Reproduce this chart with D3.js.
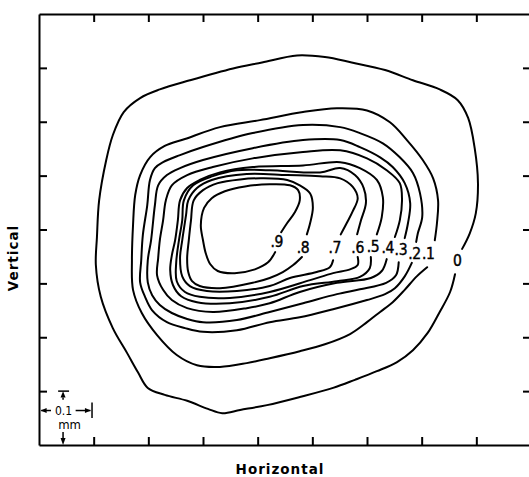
<!DOCTYPE html>
<html><head><meta charset="utf-8">
<script src="https://cdn.jsdelivr.net/npm/d3@7/dist/d3.min.js"></script>
<style>
html,body{margin:0;padding:0;background:#fff;}
svg{display:block;}
</style></head>
<body>
<svg id="chart" width="529" height="477"></svg>
<script>
// Units: 0.01 mm (one axis tick = 0.1 mm = 10 units)
const levels = ["0", ".1", ".2", ".3", ".4", ".5", ".6", ".7", ".8", ".9"];
const xTicks = [10, 20, 30, 40, 50, 60, 70, 80];
const yTicks = [10, 20, 30, 40, 50, 60, 70];

const contour0 = [[76.1,31.7],[75.2,28.4],[73.3,24.7],[71.1,20.8],[68.4,17.6],[65.5,15.4],[61.8,13.7],[57.8,12.1],[53.8,10.6],[47.7,8.9],[41.7,7.4],[36.8,6.5],[33.5,5.9],[30.9,6.7],[27.1,8.2],[23.0,9.3],[19.9,10.6],[18.1,13.5],[16.1,17.1],[13.5,21.7],[11.3,27.5],[10.4,33.4],[10.6,38.6],[11.0,45.4],[12.3,52.9],[13.5,57.5],[15.5,61.8],[18.5,64.4],[22.1,66.0],[27.6,67.7],[35.5,69.9],[40.8,71.0],[47.2,72.3],[52.3,72.0],[57.2,71.0],[63.3,69.6],[68.4,67.7],[73.3,66.0],[76.6,64.0],[78.5,60.7],[79.7,55.1],[80.3,48.6],[79.9,43.0],[78.8,39.3],[77.4,36.4]];
const contour1 = [[71.0,33.0],[69.1,31.3],[66.9,28.8],[64.7,26.5],[62.4,24.7],[60.0,22.8],[56.9,20.6],[52.3,18.7],[47.7,17.4],[42.2,16.1],[38.0,15.2],[33.1,14.5],[28.9,14.8],[25.2,16.7],[21.6,20.4],[18.8,24.5],[17.2,28.8],[17.0,34.3],[17.2,40.8],[17.6,46.4],[18.5,50.1],[20.3,53.4],[23.0,55.5],[26.7,56.8],[33.1,59.0],[40.4,60.3],[48.3,61.8],[54.5,62.5],[60.0,62.1],[64.2,59.9],[67.3,56.6],[70.2,52.9],[72.1,49.5],[73.0,45.4],[72.8,41.2],[72.4,38.0]];
const contour2 = [[68.2,33.8],[66.9,31.3],[65.1,29.1],[63.3,28.0],[60.0,26.9],[53.8,25.2],[47.7,23.7],[42.2,22.8],[36.2,21.3],[30.0,21.0],[26.7,21.7],[23.4,22.8],[20.7,25.0],[19.4,27.5],[18.5,30.2],[18.7,34.3],[19.0,39.0],[19.8,44.5],[20.3,49.2],[21.2,51.4],[22.7,52.5],[25.8,53.8],[30.0,55.3],[39.1,57.9],[48.3,59.4],[55.1,59.0],[58.7,57.9],[62.9,56.0],[66.0,53.4],[68.4,50.5],[69.7,46.7],[70.1,42.3],[69.3,39.3],[69.0,37.7]];
const contour3 = [[65.8,33.9],[65.3,31.5],[63.5,30.1],[58.7,28.9],[54.5,28.0],[48.3,26.3],[42.2,24.7],[36.2,23.2],[30.0,22.8],[27.1,23.4],[24.3,24.5],[22.1,26.0],[20.7,27.8],[19.9,30.2],[19.9,34.3],[20.5,38.0],[21.2,44.5],[21.8,48.2],[23.4,50.1],[25.8,51.4],[30.0,52.9],[39.1,55.1],[48.3,56.6],[55.1,56.6],[58.7,55.3],[62.4,53.4],[64.7,51.6],[66.9,48.6],[67.9,44.9],[67.5,41.2],[66.9,38.4]];
const contour4 = [[63.6,34.5],[62.7,32.3],[60.7,31.0],[54.5,30.1],[47.7,28.4],[42.2,26.3],[38.0,25.4],[31.8,24.7],[27.1,25.4],[24.3,26.9],[22.7,28.8],[21.6,31.5],[21.8,34.7],[22.1,38.0],[22.7,41.7],[23.2,45.4],[24.3,48.2],[27.1,50.1],[31.8,51.6],[39.1,53.2],[48.3,54.4],[55.1,54.7],[60.0,53.2],[63.6,51.0],[66.0,48.6],[66.4,45.4],[66.0,41.7],[65.1,38.6]];
const contour5 = [[60.7,34.9],[60.5,32.8],[58.7,31.2],[54.5,30.4],[48.3,29.5],[42.2,27.5],[34.9,26.3],[28.9,26.5],[26.0,27.6],[24.5,29.7],[24.0,32.5],[24.3,35.2],[24.9,38.0],[25.4,41.7],[25.8,45.4],[27.1,47.7],[29.4,49.2],[33.1,50.6],[39.1,51.6],[48.3,51.9],[55.1,52.5],[58.7,51.4],[61.8,49.2],[62.9,46.0],[62.7,42.3],[61.8,39.1]];
const contour6 = [[58.3,34.9],[58.3,33.4],[56.9,32.6],[53.8,31.9],[49.6,30.6],[42.2,28.4],[34.9,27.3],[29.4,27.5],[26.7,28.4],[25.2,30.4],[25.1,33.9],[25.6,38.0],[26.2,41.7],[26.5,45.4],[28.2,48.2],[31.8,49.9],[36.2,51.0],[42.2,51.0],[51.4,50.6],[55.1,51.4],[57.8,50.1],[59.4,47.7],[59.8,44.9],[58.9,41.7],[58.2,39.1]];
const contour7 = [[53.8,34.3],[53.2,33.0],[50.8,32.1],[45.9,31.0],[42.2,29.5],[36.2,28.6],[30.7,28.6],[27.6,29.5],[26.2,31.3],[25.8,34.7],[26.2,38.0],[26.9,42.7],[27.3,45.4],[28.9,47.7],[31.6,49.2],[38.0,50.3],[45.4,50.1],[51.4,49.9],[55.1,49.5],[57.4,47.9],[58.3,45.8],[57.4,43.4],[56.3,41.2],[55.2,39.1]];
const contour8 = [[48.1,34.9],[46.5,33.4],[44.6,32.1],[42.2,31.0],[39.1,30.1],[33.1,29.1],[29.4,29.5],[28.0,30.4],[27.3,32.1],[27.1,34.7],[27.4,38.0],[27.8,41.7],[28.3,45.4],[30.0,47.3],[32.7,48.6],[36.8,49.3],[40.8,49.5],[45.4,49.2],[47.7,48.2],[49.6,46.7],[50.1,44.1],[49.6,41.2],[49.0,39.1]];
const contour9 = [[43.2,35.8],[41.9,33.9],[39.5,32.6],[35.8,31.9],[32.7,32.3],[31.3,33.6],[30.5,35.6],[30.0,38.0],[29.6,40.8],[30.2,44.0],[31.6,45.8],[34.0,47.1],[37.7,48.0],[42.2,48.4],[45.9,48.2],[47.4,47.3],[47.7,45.4],[46.8,43.2],[45.4,41.2],[44.3,39.5]];

const labelX = [76.5, 71.2, 68.7, 66.2, 63.8, 61.1, 58.3, 54.1, 48.3, 43.5];
const labelY = [34.1, 35.4, 35.5, 36.2, 36.5, 36.7, 36.5, 36.5, 36.5, 37.7];

const contours = [contour0, contour1, contour2, contour3, contour4, contour5, contour6, contour7, contour8, contour9];

const svg = d3.select("#chart");
const x = d3.scaleLinear().domain([0, 90]).range([39, 531]);
const y = d3.scaleLinear().domain([0, 80]).range([445, 14]);

const lineGen = d3.line().x(d => x(d[0])).y(d => y(d[1])).curve(d3.curveCatmullRom.alpha(0.5));

// contours
svg.append("g").selectAll("path").data(contours).join("path")
  .attr("d", lineGen)
  .attr("fill", "none").attr("stroke", "#000").attr("stroke-width", 2)
  .attr("stroke-linejoin", "round").attr("stroke-linecap", "round");

// contour labels
svg.append("g").selectAll("text").data(levels).join("text")
  .attr("x", (d, i) => x(labelX[i]))
  .attr("y", (d, i) => y(labelY[i]))
  .attr("text-anchor", "middle").attr("dominant-baseline", "central")
  .attr("font-family", "'DejaVu Sans Condensed', 'DejaVu Sans', sans-serif").attr("font-stretch", "condensed")
  .attr("font-size", 15.5).attr("letter-spacing", -0.3).attr("fill", "#000")
  .attr("stroke", "#000").attr("stroke-width", 0.4)
  .text(d => d);

// axes (frame with inward ticks, no labels)
function styleAxis(g) {
  g.selectAll("path.domain").attr("stroke", "#000").attr("stroke-width", 2);
  g.selectAll(".tick line").attr("stroke", "#000").attr("stroke-width", 2);
  g.selectAll(".tick text").remove();
}
svg.append("g").attr("transform", `translate(0,${y(0)})`)
  .call(d3.axisBottom(x).tickValues(xTicks).tickSizeInner(-8).tickSizeOuter(0).tickFormat(""))
  .call(styleAxis);
svg.append("g").attr("transform", `translate(0,${y(80)})`)
  .call(d3.axisTop(x).tickValues(xTicks).tickSizeInner(-8).tickSizeOuter(0).tickFormat(""))
  .call(styleAxis);
svg.append("g").attr("transform", `translate(${x(0)},0)`)
  .call(d3.axisLeft(y).tickValues(yTicks).tickSizeInner(-8).tickSizeOuter(0).tickFormat(""))
  .call(styleAxis);
svg.append("g").attr("transform", `translate(${x(90)},0)`)
  .call(d3.axisRight(y).tickValues(yTicks).tickSizeInner(-8).tickSizeOuter(0).tickFormat(""))
  .call(styleAxis);

// axis titles
svg.append("text")
  .attr("x", 280).attr("y", 469)
  .attr("text-anchor", "middle").attr("dominant-baseline", "central")
  .attr("font-family", "'DejaVu Sans', sans-serif").attr("font-weight", "bold")
  .attr("font-size", 13.5).attr("letter-spacing", 1).text("Horizontal");
svg.append("text")
  .attr("transform", "translate(13,258) rotate(-90)")
  .attr("text-anchor", "middle").attr("dominant-baseline", "central")
  .attr("font-family", "'DejaVu Sans', sans-serif").attr("font-weight", "bold")
  .attr("font-size", 13.5).attr("letter-spacing", 1).text("Vertical");

// scale bar annotation (0.1 mm)
const sb = svg.append("g").attr("stroke", "#000").attr("fill", "#000");
const hy = y(6.4);
sb.append("line").attr("x1", x(0.4)).attr("x2", x(2.2)).attr("y1", hy).attr("y2", hy).attr("stroke-width", 1.5);
sb.append("line").attr("x1", x(6.7)).attr("x2", x(9.4)).attr("y1", hy).attr("y2", hy).attr("stroke-width", 1.5);
sb.append("path").attr("d", `M${x(0.3)},${hy} L${x(1.4)},${hy-2.5} L${x(1.4)},${hy+2.5} Z`).attr("stroke", "none");
sb.append("path").attr("d", `M${x(9.5)},${hy} L${x(8.4)},${hy-2.5} L${x(8.4)},${hy+2.5} Z`).attr("stroke", "none");
sb.append("line").attr("x1", x(9.7)).attr("x2", x(9.7)).attr("y1", y(7.9)).attr("y2", y(5.0)).attr("stroke-width", 1.5);
const vx = x(4.4);
sb.append("line").attr("x1", x(3.5)).attr("x2", x(5.5)).attr("y1", y(10)).attr("y2", y(10)).attr("stroke-width", 1.5);
sb.append("path").attr("d", `M${vx},${y(10)} L${vx-2.5},${y(8.8)} L${vx+2.5},${y(8.8)} Z`).attr("stroke", "none");
sb.append("line").attr("x1", vx).attr("x2", vx).attr("y1", y(8.8)).attr("y2", y(8.4)).attr("stroke-width", 1.5);
sb.append("line").attr("x1", vx).attr("x2", vx).attr("y1", y(2.4)).attr("y2", y(1.2)).attr("stroke-width", 1.5);
sb.append("path").attr("d", `M${vx},${y(0)} L${vx-2.5},${y(1.3)} L${vx+2.5},${y(1.3)} Z`).attr("stroke", "none");
svg.append("text").attr("x", x(4.5)).attr("y", hy)
  .attr("text-anchor", "middle").attr("dominant-baseline", "central")
  .attr("font-family", "'DejaVu Sans Condensed', 'DejaVu Sans', sans-serif").attr("font-stretch", "condensed")
  .attr("font-size", 12).text("0.1");
svg.append("text").attr("x", x(5.6)).attr("y", y(3.8))
  .attr("text-anchor", "middle").attr("dominant-baseline", "central")
  .attr("font-family", "'DejaVu Sans Condensed', 'DejaVu Sans', sans-serif").attr("font-stretch", "condensed")
  .attr("font-size", 13).text("mm");
</script>
</body></html>
